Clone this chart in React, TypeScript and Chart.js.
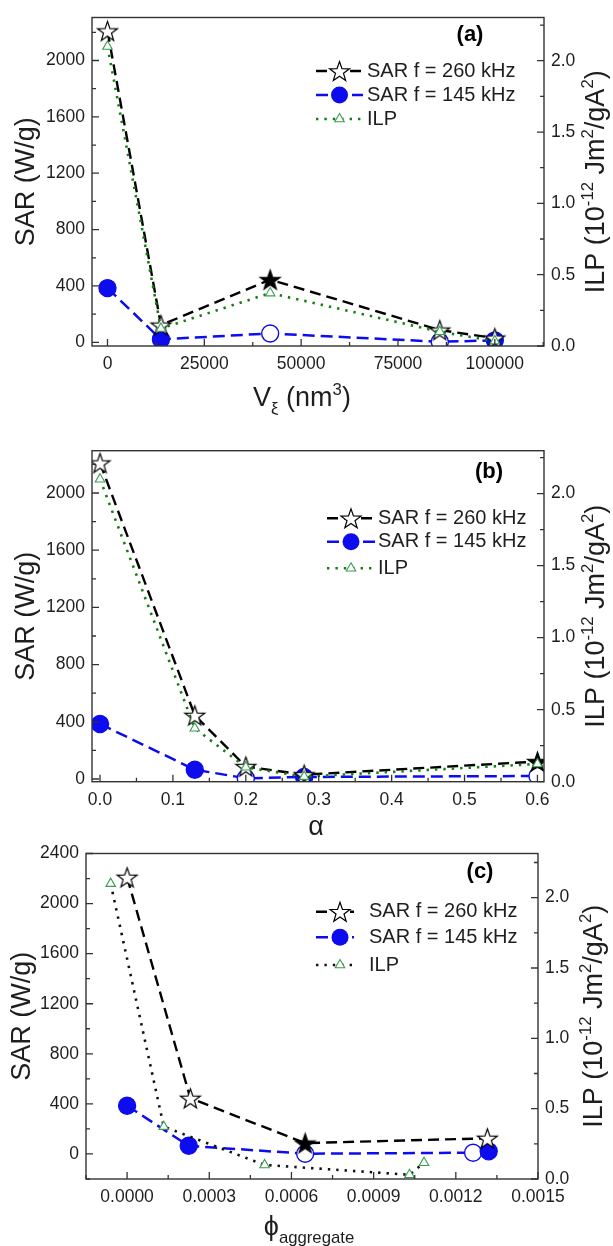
import React, { useEffect, useRef } from 'react';
import { Chart, registerables } from 'chart.js';
Chart.register(...registerables);

const FONT = '"Liberation Sans", Arial, Helvetica, sans-serif';
const INK = '#1e1e1e';
const BLUE = '#0c0cee';
const GREEN_LINE = '#11800f';
const GREEN_MARK = '#3a9d52';
const PAGE_W = 613;

// ---------- Panel (a): SAR / ILP vs V_xi (nm^3) ----------
const aVolume = [0, 13800, 42000, 85800, 100000];
const aSar260 = [2210, 122, 445, 87, 30];
const aSar260Solid = [false, false, true, false, false];
const aSar145 = [385, 21, 63, 4, 14];
const aSar145Solid = [true, true, false, false, true];
const aIlp = [2.1, 0.123, 0.371, 0.1, 0.035];
const aXTicks = [0, 25000, 50000, 75000, 100000];

// ---------- Panel (b): vs alpha ----------
const bAlpha = [0, 0.13, 0.2, 0.28, 0.6];
const bSar260 = [2210, 445, 87, 30, 122];
const bSar260Solid = [false, false, false, false, true];
const bSar145 = [385, 65, 5, 14, 21];
const bSar145Solid = [true, true, false, true, false];
const bIlp = [2.1, 0.371, 0.1, 0.035, 0.123];
const bXTicks = [0, 0.1, 0.2, 0.3, 0.4, 0.5, 0.6];

// ---------- Panel (c): vs phi_aggregate ----------
const cPhiSar260 = [0, 0.000231, 0.00065, 0.001315];
const cSar260 = [2210, 445, 87, 125];
const cSar260Solid = [false, false, true, false];
const cPhiSar145 = [0, 0.000225, 0.00065, 0.001263, 0.00132];
const cSar145 = [385, 65, 2, 10, 21];
const cSar145Solid = [true, true, false, false, true];
const cPhiIlp = [-0.00006, 0.000134, 0.000502, 0.001031, 0.001084];
const cIlp = [2.1, 0.372, 0.1, 0.03, 0.116];
const cXTicks = [0, 0.0003, 0.0006, 0.0009, 0.0012, 0.0015];

const sarTicksAB = [0, 400, 800, 1200, 1600, 2000];
const sarTicksC = [0, 400, 800, 1200, 1600, 2000, 2400];
const ilpTicks = [0, 0.5, 1, 1.5, 2];
const legendLabels = ['SAR f = 260 kHz', 'SAR f = 145 kHz', 'ILP'];

type Seg = { t: string; v?: 'sup' | 'sub' };

const ilpTitle: Seg[] = [
  { t: 'ILP (10' }, { t: '-12', v: 'sup' }, { t: ' Jm' }, { t: '2', v: 'sup' },
  { t: '/gA' }, { t: '2', v: 'sup' }, { t: ')' },
];
const sarTitle: Seg[] = [{ t: 'SAR (W/g)' }];

interface AxisSpec { min: number; max: number; ticks: number[]; minor: number; digits: number }
interface PanelSpec {
  top: number; height: number;
  area: { left: number; right: number; top: number; bottom: number };
  x: AxisSpec; y: AxisSpec; y1: AxisSpec;
  s260: { x: number[]; y: number[]; solid: boolean[] };
  s145: { x: number[]; y: number[]; solid: boolean[] };
  ilp: { x: number[]; y: number[] };
  ilpColor: string;
  xTitle: Seg[]; xTitlePos: [number, number];
  leftTitleX: number; rightTitleX: number;
  legend: { rows: number[]; x0: number; x1: number; mx: number; tx: number };
  tag: string; tagPos: [number, number];
}

const TITLE_SIZE = 27;
const TICK_SIZE = 17.5;

const panels: PanelSpec[] = [
  {
    top: 0, height: 415,
    area: { left: 92, right: 544, top: 14, bottom: 346 },
    x: { min: -4000, max: 112700, ticks: aXTicks, minor: 12500, digits: 0 },
    y: { min: -26, max: 2305, ticks: sarTicksAB, minor: 200, digits: 0 },
    y1: { min: 0, max: 2.303, ticks: ilpTicks, minor: 0.25, digits: 1 },
    s260: { x: aVolume, y: aSar260, solid: aSar260Solid },
    s145: { x: aVolume, y: aSar145, solid: aSar145Solid },
    ilp: { x: aVolume, y: aIlp },
    ilpColor: GREEN_LINE,
    xTitle: [{ t: 'V' }, { t: 'ξ', v: 'sub' }, { t: ' (nm' }, { t: '3', v: 'sup' }, { t: ')' }],
    xTitlePos: [302, 406],
    leftTitleX: 34, rightTitleX: 604,
    legend: { rows: [71, 95, 119], x0: 316, x1: 363, mx: 339.5, tx: 367 },
    tag: '(a)', tagPos: [470, 35],
  },
  {
    top: 410, height: 435,
    area: { left: 92, right: 544, top: 40.7, bottom: 371.7 },
    x: { min: -0.011, max: 0.609, ticks: bXTicks, minor: 0.05, digits: 1 },
    y: { min: -19, max: 2296, ticks: sarTicksAB, minor: 200, digits: 0 },
    y1: { min: 0, max: 2.298, ticks: ilpTicks, minor: 0.25, digits: 1 },
    s260: { x: bAlpha, y: bSar260, solid: bSar260Solid },
    s145: { x: bAlpha, y: bSar145, solid: bSar145Solid },
    ilp: { x: bAlpha, y: bIlp },
    ilpColor: GREEN_LINE,
    xTitle: [{ t: 'α' }],
    xTitlePos: [316, 425],
    leftTitleX: 34, rightTitleX: 604,
    legend: { rows: [108.3, 131.7, 158.3], x0: 327, x1: 375, mx: 351, tx: 378 },
    tag: '(b)', tagPos: [489, 62],
  },
  {
    top: 836, height: 410,
    area: { left: 86, right: 538, top: 10.7, bottom: 343 },
    x: { min: -0.00015, max: 0.0015, ticks: cXTicks, minor: 0.00015, digits: 4 },
    y: { min: -200, max: 2400, ticks: sarTicksC, minor: 200, digits: 0 },
    y1: { min: 0, max: 2.314, ticks: ilpTicks, minor: 0.25, digits: 1 },
    s260: { x: cPhiSar260, y: cSar260, solid: cSar260Solid },
    s145: { x: cPhiSar145, y: cSar145, solid: cSar145Solid },
    ilp: { x: cPhiIlp, y: cIlp },
    ilpColor: '#111111',
    xTitle: [{ t: 'ϕ' }, { t: 'aggregate', v: 'sub' }],
    xTitlePos: [309, 399],
    leftTitleX: 30, rightTitleX: 602,
    legend: { rows: [75.7, 101.3, 129], x0: 316, x1: 354, mx: 340, tx: 369 },
    tag: '(c)', tagPos: [480, 36],
  },
];

function starPath(ctx: CanvasRenderingContext2D, cx: number, cy: number, R: number) {
  const r = R * 0.4;
  ctx.beginPath();
  for (let i = 0; i < 10; i++) {
    const rad = i % 2 === 0 ? R : r;
    const a = -Math.PI / 2 + (i * Math.PI) / 5;
    const x = cx + Math.cos(a) * rad;
    const y = cy + Math.sin(a) * rad;
    if (i === 0) ctx.moveTo(x, y); else ctx.lineTo(x, y);
  }
  ctx.closePath();
}

function drawStar(ctx: CanvasRenderingContext2D, cx: number, cy: number, R: number, solid: boolean) {
  starPath(ctx, cx, cy + R * 0.1, R);
  ctx.fillStyle = solid ? '#000' : '#fff';
  ctx.fill();
  ctx.lineWidth = 1.2;
  ctx.strokeStyle = '#000';
  ctx.setLineDash([]);
  ctx.stroke();
}

function makeStar(solid: boolean, R = 10.5): HTMLCanvasElement {
  const size = Math.ceil(R * 2 + 4);
  const c = document.createElement('canvas');
  c.width = size;
  c.height = size;
  const ctx = c.getContext('2d')!;
  drawStar(ctx, size / 2, size / 2, R, solid);
  return c;
}

function drawRich(ctx: CanvasRenderingContext2D, segs: Seg[], cx: number, cy: number, size: number, rotate: boolean) {
  ctx.save();
  ctx.translate(cx, cy);
  if (rotate) ctx.rotate(-Math.PI / 2);
  const small = size * 0.62;
  const fontOf = (s: number) => `${s}px ${FONT}`;
  let total = 0;
  const widths = segs.map((s) => {
    ctx.font = fontOf(s.v ? small : size);
    const w = ctx.measureText(s.t).width;
    total += w;
    return w;
  });
  let x = -total / 2;
  ctx.textBaseline = 'alphabetic';
  ctx.textAlign = 'left';
  ctx.fillStyle = INK;
  segs.forEach((s, i) => {
    ctx.font = fontOf(s.v ? small : size);
    const dy = s.v === 'sup' ? -size * 0.42 : s.v === 'sub' ? size * 0.28 : 0;
    ctx.fillText(s.t, x, dy);
    x += widths[i];
  });
  ctx.restore();
}

const near = (a: number, b: number, step: number) => Math.abs(a - b) < step * 1e-3;

function makeDecor(spec: PanelSpec) {
  return {
    id: 'decor',
    afterDraw(chart: any) {
      const ctx: CanvasRenderingContext2D = chart.ctx;
      const { left, right, top, bottom } = chart.chartArea;
      const xs = chart.scales.x, ys = chart.scales.y, y1 = chart.scales.y1;
      ctx.save();
      ctx.setLineDash([]);
      ctx.strokeStyle = '#333';
      ctx.lineWidth = 1.4;
      ctx.strokeRect(left, top, right - left, bottom - top);

      const each = (ax: AxisSpec, fn: (v: number, major: boolean) => void) => {
        const start = Math.ceil((ax.min - 1e-12) / ax.minor) * ax.minor;
        for (let v = start; v <= ax.max + ax.minor * 1e-6; v += ax.minor) {
          const major = ax.ticks.some((t) => near(t, v, ax.minor));
          fn(v, major);
        }
      };
      ctx.lineWidth = 1.3;
      ctx.beginPath();
      each(spec.x, (v, major) => {
        const px = xs.getPixelForValue(v);
        if (px < left - 0.5 || px > right + 0.5) return;
        ctx.moveTo(px, bottom);
        ctx.lineTo(px, bottom - (major ? 7 : 4));
      });
      each(spec.y, (v, major) => {
        const py = ys.getPixelForValue(v);
        if (py < top - 0.5 || py > bottom + 0.5) return;
        ctx.moveTo(left, py);
        ctx.lineTo(left + (major ? 7 : 4), py);
      });
      each(spec.y1, (v, major) => {
        const py = y1.getPixelForValue(v);
        if (py < top - 0.5 || py > bottom + 0.5) return;
        ctx.moveTo(right, py);
        ctx.lineTo(right - (major ? 7 : 4), py);
      });
      ctx.stroke();

      // axis titles
      const midY = (top + bottom) / 2;
      drawRich(ctx, sarTitle, spec.leftTitleX, midY, TITLE_SIZE, true);
      drawRich(ctx, ilpTitle, spec.rightTitleX, midY, TITLE_SIZE, true);
      drawRich(ctx, spec.xTitle, spec.xTitlePos[0], spec.xTitlePos[1], TITLE_SIZE, false);

      // panel tag
      ctx.font = `bold 22px ${FONT}`;
      ctx.fillStyle = '#000';
      ctx.textAlign = 'center';
      ctx.textBaseline = 'middle';
      ctx.fillText(spec.tag, spec.tagPos[0], spec.tagPos[1]);

      // legend
      const L = spec.legend;
      const styles = [
        { color: '#000', dash: [11, 6], width: 2.4 },
        { color: BLUE, dash: [12, 6], width: 2.5 },
        { color: spec.ilpColor, dash: [2.4, 6], width: 2.6 },
      ];
      L.rows.forEach((ry, i) => {
        const st = styles[i];
        ctx.save();
        ctx.strokeStyle = st.color;
        ctx.lineWidth = st.width;
        ctx.setLineDash(st.dash);
        ctx.beginPath();
        ctx.moveTo(L.x0, ry);
        ctx.lineTo(L.x1, ry);
        ctx.stroke();
        ctx.setLineDash([]);
        if (i === 0) drawStar(ctx, L.mx, ry, 10.5, false);
        else if (i === 1) {
          ctx.beginPath();
          ctx.arc(L.mx, ry, 8.5, 0, Math.PI * 2);
          ctx.fillStyle = BLUE;
          ctx.fill();
        } else {
          const r = 5.5;
          ctx.beginPath();
          for (let k = 0; k < 3; k++) {
            const a = -Math.PI / 2 + (k * 2 * Math.PI) / 3;
            const px = L.mx + Math.cos(a) * r, py = ry + Math.sin(a) * r;
            if (k === 0) ctx.moveTo(px, py); else ctx.lineTo(px, py);
          }
          ctx.closePath();
          ctx.fillStyle = '#fff';
          ctx.fill();
          ctx.strokeStyle = GREEN_MARK;
          ctx.lineWidth = 1.1;
          ctx.stroke();
        }
        ctx.restore();
        ctx.font = `20px ${FONT}`;
        ctx.fillStyle = INK;
        ctx.textAlign = 'left';
        ctx.textBaseline = 'middle';
        ctx.fillText(legendLabels[i], L.tx, ry);
      });
      ctx.restore();
    },
  };
}

function axisOpts(ax: AxisSpec, position: string, fit: (s: any) => void, pad: number) {
  return {
    type: 'linear',
    position,
    min: ax.min,
    max: ax.max,
    afterBuildTicks: (s: any) => { s.ticks = ax.ticks.map((v) => ({ value: v })); },
    afterFit: fit,
    grid: { display: false, drawTicks: false },
    border: { display: false },
    ticks: {
      font: { family: FONT, size: TICK_SIZE },
      color: INK,
      padding: pad,
      autoSkip: false,
      maxRotation: 0,
      callback: (v: any) => Number(v).toFixed(ax.digits),
    },
  };
}

function buildConfig(spec: PanelSpec): any {
  const starOpen = makeStar(false);
  const starSolid = makeStar(true);
  const pts = (xs: number[], ys: number[]) => xs.map((x, i) => ({ x, y: ys[i] }));
  return {
    type: 'line',
    data: {
      datasets: [
        {
          label: legendLabels[2],
          data: pts(spec.ilp.x, spec.ilp.y),
          xAxisID: 'x', yAxisID: 'y1',
          borderColor: spec.ilpColor, borderWidth: 2.6, borderDash: [2.4, 6],
          fill: false, tension: 0,
          pointStyle: 'triangle', pointRadius: 5.5,
          pointBackgroundColor: '#fff', pointBorderColor: GREEN_MARK, pointBorderWidth: 1.1,
          order: 0,
        },
        {
          label: legendLabels[0],
          data: pts(spec.s260.x, spec.s260.y),
          xAxisID: 'x', yAxisID: 'y',
          borderColor: '#000', borderWidth: 2.4, borderDash: [11, 6],
          fill: false, tension: 0,
          pointStyle: spec.s260.solid.map((s) => (s ? starSolid : starOpen)),
          pointRadius: 10,
          order: 1,
        },
        {
          label: legendLabels[1],
          data: pts(spec.s145.x, spec.s145.y),
          xAxisID: 'x', yAxisID: 'y',
          borderColor: BLUE, borderWidth: 2.5, borderDash: [12, 6],
          fill: false, tension: 0,
          pointStyle: 'circle', pointRadius: 8.5,
          pointBackgroundColor: spec.s145.solid.map((s) => (s ? BLUE : '#fff')),
          pointBorderColor: BLUE, pointBorderWidth: 1.4,
          order: 2,
        },
      ],
    },
    options: {
      responsive: false,
      animation: false,
      devicePixelRatio: 1,
      events: [],
      layout: { padding: { top: spec.area.top, left: 0, right: 0, bottom: 0 } },
      plugins: { legend: { display: false }, tooltip: { enabled: false }, title: { display: false } },
      scales: {
        x: axisOpts(spec.x, 'bottom', (s: any) => { s.height = spec.height - spec.area.bottom; }, 8),
        y: axisOpts(spec.y, 'left', (s: any) => { s.width = spec.area.left; }, 7),
        y1: axisOpts(spec.y1, 'right', (s: any) => { s.width = PAGE_W - spec.area.right; }, 7),
      },
    },
    plugins: [makeDecor(spec)],
  };
}

function Panel({ spec }: { spec: PanelSpec }) {
  const ref = useRef<HTMLCanvasElement>(null);
  useEffect(() => {
    const chart = new Chart(ref.current!, buildConfig(spec));
    return () => chart.destroy();
  }, [spec]);
  return (
    <canvas
      ref={ref}
      width={PAGE_W}
      height={spec.height}
      style={{ position: 'absolute', left: 0, top: spec.top, width: PAGE_W, height: spec.height }}
    />
  );
}

export default function App() {
  return (
    <div style={{ position: 'absolute', left: 0, top: 0, width: PAGE_W, height: 1246, background: '#fff', overflow: 'hidden' }}>
      {panels.map((p) => (
        <Panel key={p.tag} spec={p} />
      ))}
    </div>
  );
}
